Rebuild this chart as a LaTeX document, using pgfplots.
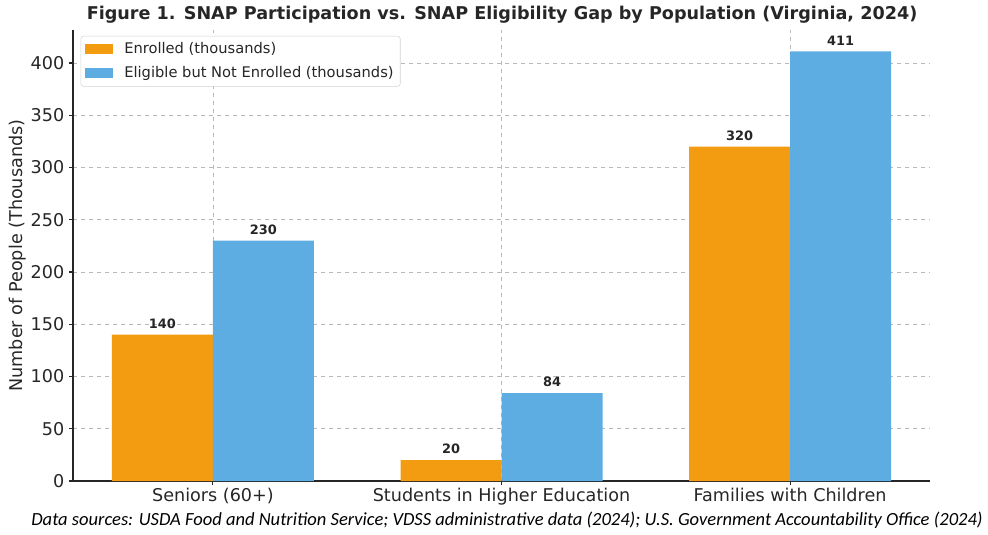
\documentclass[border=0pt]{standalone}
\usepackage{pgfplots}
\pgfplotsset{compat=1.18}
\usepackage{fontspec}
\setmainfont{DejaVu Sans}
\newfontfamily\notefont{Carlito}
\definecolor{enr}{HTML}{F39C12}
\definecolor{elig}{HTML}{5DADE2}
\definecolor{txt}{HTML}{262626}
\begin{document}
\begin{tikzpicture}
\path[use as bounding box] (-54.75pt,-40.5pt) rectangle (686.25pt,360.75pt);
\begin{axis}[
  at={(0,0)}, anchor=south west,
  scale only axis, width=642.75pt, height=338.25pt,
  ybar=0pt, bar width=0.35,
  xmin=-0.485, xmax=2.485, ymin=0, ymax=431.55,
  xtick={0,1,2},
  xticklabels={Seniors (60+),Students in Higher Education,Families with Children},
  ytick={0,50,...,400},
  axis x line*=bottom, axis y line*=left,
  axis line style={txt, line width=0.8pt},
  tick style={txt, line width=0.8pt},
  tick align=outside, major tick length=3pt,
  grid=major,
  major grid style={dashed, gray!55, line width=0.5pt},
  ticklabel style={font=\fontsize{13.2}{15}\selectfont, text=txt},
  xticklabel style={yshift=1pt},
  /pgf/number format/assume math mode=true,
  ylabel={Number of People (Thousands)},
  every axis y label/.style={at={(axis description cs:-0.0642,0.5)}, rotate=90, anchor=center,
     font=\fontsize{13.2}{15}\selectfont, text=txt},
  nodes near coords,
  every node near coord/.append style={font=\bfseries\fontsize{9.7}{11}\selectfont, text=txt, yshift=1pt},
  legend style={at={(axis description cs:0.009,0.987)}, anchor=north west,
    draw=gray!35, rounded corners=2pt, fill=white,
    font=\fontsize{11}{13}\selectfont, text=txt,
    inner xsep=3pt, inner ysep=3pt, row sep=4pt},
  legend cell align=left,
  legend image code/.code={\fill[#1, sharp corners] (0pt,-3.5pt) rectangle (21pt,4pt); \path (27.5pt,0pt);},
]
\addplot[fill=enr, draw=none] coordinates {(0,140) (1,20) (2,320)};
\addplot[fill=elig, draw=none] coordinates {(0,230) (1,84) (2,411)};
\legend{Enrolled (thousands),Eligible but Not Enrolled (thousands)}
\end{axis}
\node[font=\bfseries\fontsize{13.2}{15}\selectfont, text=txt] at (321.75pt,349.5pt) {Figure 1. SNAP Participation vs. SNAP Eligibility Gap by Population (Virginia, 2024)};
\node[font=\notefont\itshape\fontsize{13.9}{16}\selectfont, text=black] at (325.5pt,-29.25pt) {Data sources: USDA Food and Nutrition Service; VDSS administrative data (2024); U.S. Government Accountability Office (2024)};
\end{tikzpicture}
\end{document}
